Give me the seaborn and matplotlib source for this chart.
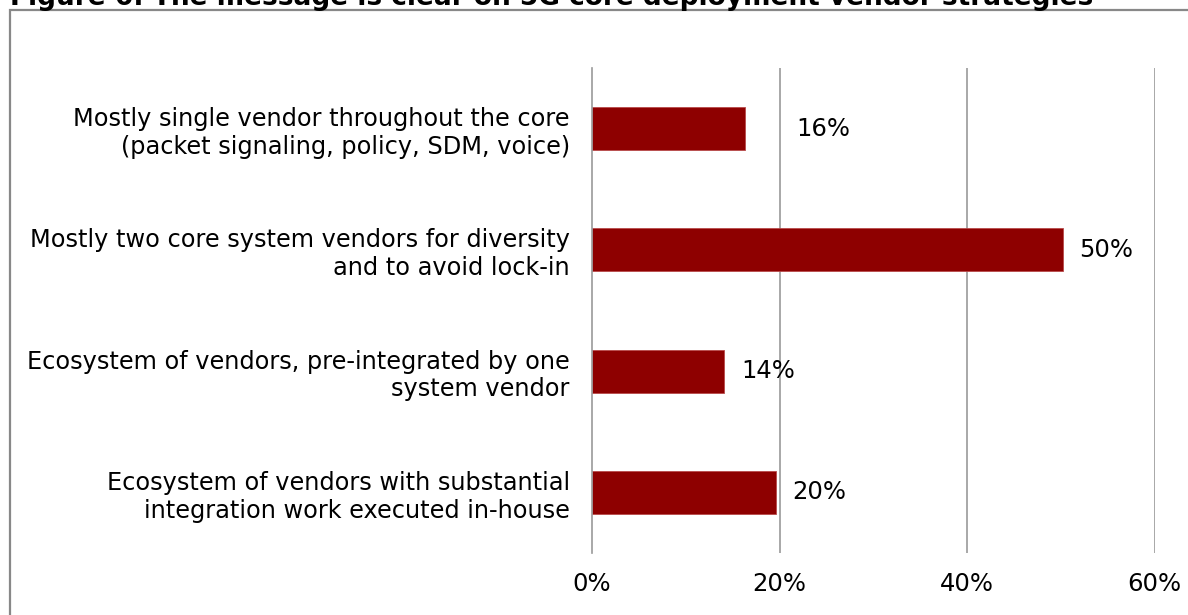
import matplotlib
matplotlib.use("Agg")
import matplotlib.pyplot as plt
from matplotlib.patches import Rectangle
import seaborn as sns
import pandas as pd

title = "Figure 6: The message is clear on 5G core deployment vendor strategies"
categories = [
    "Mostly single vendor throughout the core\n(packet signaling, policy, SDM, voice)",
    "Mostly two core system vendors for diversity\nand to avoid lock-in",
    "Ecosystem of vendors, pre-integrated by one\nsystem vendor",
    "Ecosystem of vendors with substantial\nintegration work executed in-house",
]
values = [16.3, 50.2, 14.1, 19.6]
value_labels = ["16%", "50%", "14%", "20%"]
x_ticks = [0, 20, 40, 60]
x_tick_labels = ["0%", "20%", "40%", "60%"]

label_offsets_pt = [37, 12, 12, 12]

sns.set_style("white")
plt.rcParams['font.family'] = ['DejaVu Sans']
plt.rcParams['text.color'] = 'black'
plt.rcParams['xtick.color'] = 'black'
plt.rcParams['ytick.color'] = 'black'

df = pd.DataFrame({"category": categories, "value": values})

fig = plt.figure(figsize=(11.88, 6.15), dpi=100)
ax = fig.add_axes([592 / 1188, 1 - 553 / 615, (1154.7 - 592) / 1188, (553 - 68) / 615])

sns.barplot(data=df, x="value", y="category", orient="h", color="#8E0000",
            width=0.355, saturation=1, edgecolor="#B84A4A", linewidth=0.6, ax=ax)

ax.set_xlim(0, 60)
ax.set_ylim(len(categories) - 0.5, -0.5)
ax.set_xticks(x_ticks)
ax.set_xticklabels(x_tick_labels, fontsize=17.5, color="black")
ax.set_xlabel("")
ax.set_ylabel("")
ax.tick_params(axis="x", length=0, pad=13.5)

ax.set_yticks(range(len(categories)))
ax.set_yticklabels(categories, fontsize=17.3, linespacing=1.2, ha="right", color="black")
ax.set_yticks([i - 0.5 for i in range(len(categories) + 1)], minor=True)
ax.tick_params(axis="y", which="major", length=0, pad=16)
ax.tick_params(axis="y", which="minor", length=8, width=1.2, color="#999999")

for s in ["top", "right", "bottom"]:
    ax.spines[s].set_visible(False)
ax.spines["left"].set_color("#999999")
ax.spines["left"].set_linewidth(1.2)

for xv in x_ticks[1:]:
    ax.axvline(xv, color="#999999", linewidth=1.2, zorder=0)

for i, (v, lab) in enumerate(zip(values, value_labels)):
    ax.annotate(lab, xy=(v, i), xytext=(label_offsets_pt[i], 0), textcoords="offset points",
                ha="left", va="center", fontsize=17.5, color="black")

fig.text(10 / 1188, 1 - 5 / 615, title, fontsize=19, fontweight="bold", ha="left",
         va="baseline", color="black")

fig.patches.append(Rectangle((10 / 1188, -0.1), 1.2, 1 - 10 / 615 + 0.1,
                             transform=fig.transFigure, fill=False,
                             edgecolor="#888888", linewidth=1.6))

fig.savefig("out.png", dpi=100)
